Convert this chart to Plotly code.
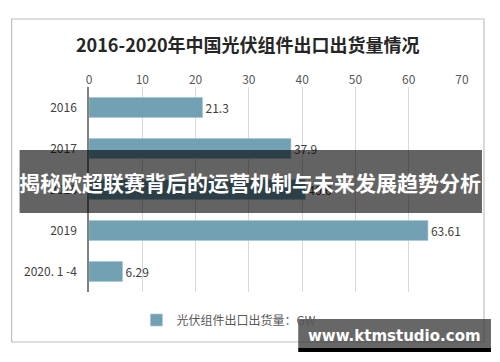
import plotly.graph_objects as go

categories = ["2016", "2017", "2018", "2019", "2020. 1 -4"]
values = [21.3, 37.9, 40.6, 63.61, 6.29]
value_labels = ["21.3", "37.9", "40.6", "63.61", "6.29"]
x_ticks = [0, 10, 20, 30, 40, 50, 60, 70]
title_text = "2016-2020年中国光伏组件出口出货量情况"
series_name = "光伏组件出口出货量：GW"
banner_text = "揭秘欧超联赛背后的运营机制与未来发展趋势分析"
watermark_text = "www.ktmstudio.com"

# the page body has an 8px default margin; work in window pixels and shift
OFF = 8
W, H = 500 - OFF, 362 - OFF
PL, PR, PT, PB = 88.5, 462, 87, 292          # plot area in window pixels
L, R, T, B = PL - OFF, W - (PR - OFF), PT - OFF, H - (PB - OFF)
PW, PH = W - L - R, H - T - B

def px(x):
    return (x - OFF - L) / PW

def py(y):
    return 1 - (y - OFF - T) / PH

CJK = "Noto Sans CJK SC"
bar_color = "#73A1B4"

fig = go.Figure()
fig.add_trace(go.Bar(
    y=categories, x=values, orientation="h",
    name=series_name,
    marker=dict(color=bar_color, line=dict(color="#A9C6D2", width=0.6)),
    text=value_labels, textposition="outside",
    textfont=dict(family=CJK, size=12, color="#404040"),
    cliponaxis=False, showlegend=True,
))

shapes = [
    dict(type="rect", xref="paper", yref="paper", x0=px(11), x1=px(484), y0=py(19), y1=py(342),
         line=dict(color="#BFBFBF", width=1.2), fillcolor="rgba(0,0,0,0)", layer="below"),
    dict(type="rect", xref="paper", yref="paper", x0=px(19), x1=px(482), y0=py(150), y1=py(213),
         line=dict(width=0), fillcolor="rgba(0,0,0,0.61)", layer="above"),
    dict(type="rect", xref="paper", yref="paper", x0=px(298), x1=px(491), y0=py(319), y1=py(348),
         line=dict(width=0), fillcolor="rgba(60,60,60,0.78)", layer="above"),
    dict(type="rect", xref="paper", yref="paper", x0=px(298), x1=px(491), y0=py(348), y1=py(352),
         line=dict(width=0), fillcolor="#000000", layer="above"),
]

annotations = [
    dict(text=title_text, xref="paper", yref="paper", x=px(248), y=py(44), showarrow=False,
         font=dict(family=CJK, size=18, color="#262626", weight="bold"), xanchor="center", yanchor="middle"),
    dict(text=banner_text, xref="paper", yref="paper", x=px(250), y=py(182), showarrow=False,
         font=dict(family=CJK, size=21, color="#FFFFFF", weight="bold"), xanchor="center", yanchor="middle"),
    dict(text=watermark_text, xref="paper", yref="paper", x=px(394), y=py(336), showarrow=False,
         font=dict(family="DejaVu Sans", size=15, color="#FFFFFF", weight="bold"), xanchor="center", yanchor="middle"),
]

fig.update_layout(
    width=W, height=H,
    margin=dict(l=L, r=R, t=T, b=B, pad=0, autoexpand=False),
    paper_bgcolor="white", plot_bgcolor="white",
    bargap=0.51,
    shapes=shapes, annotations=annotations,
    legend=dict(orientation="h", x=px(136), y=py(320), xanchor="left", yanchor="middle",
                font=dict(family=CJK, size=12, color="#595959"), bgcolor="rgba(0,0,0,0)"),
    xaxis=dict(range=[0, 70], tickvals=x_ticks, side="top", showgrid=True, gridcolor="#D9D9D9",
               gridwidth=1, zeroline=False, showline=False, ticks="", automargin=False,
               tickfont=dict(family=CJK, size=12, color="#595959"), fixedrange=True),
    yaxis=dict(autorange="reversed", showgrid=False, zeroline=False, showline=True, automargin=False,
               linecolor="#808080", linewidth=1.5, ticks="", ticklabelstandoff=8,
               tickfont=dict(family=CJK, size=12, color="#404040")),
)

fig.write_html("out.html")
